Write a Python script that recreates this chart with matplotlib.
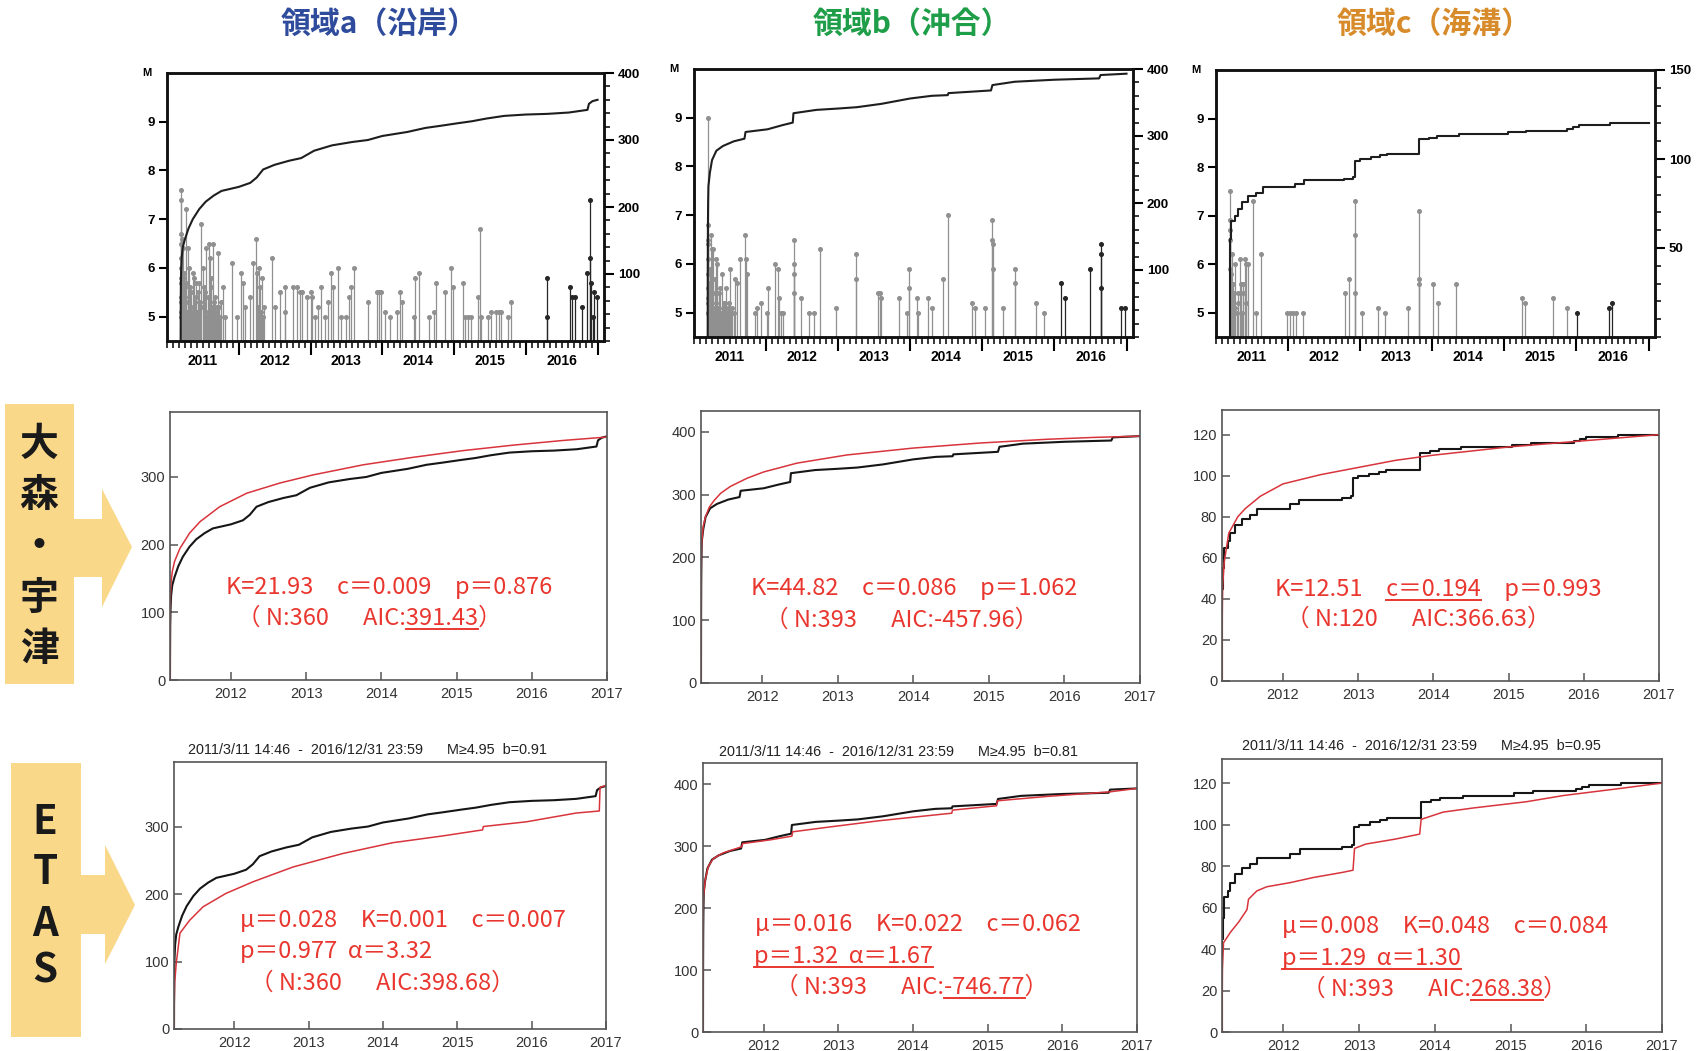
#!/usr/bin/env python

import numpy as np
import matplotlib
matplotlib.use("Agg")
import matplotlib.pyplot as plt
from matplotlib.patches import Polygon
from matplotlib.lines import Line2D
from matplotlib.font_manager import FontProperties

###
### data  (time in decimal years, M = magnitude, n = cumulative count)
###

titles       = ["領域a（沿岸）", "領域b（沖合）", "領域c（海溝）"]
title_colors = ["#2e4b9c", "#1f9e49", "#d88b2a"]
years        = [2011, 2012, 2013, 2014, 2015, 2016]

# region a, events (top row)
a_ev_t = [2011.19, 2011.20, 2011.19, 2011.21, 2011.22, 2011.19, 2011.19, 2011.20, 2011.20, 2011.21,
          2011.23, 2011.24, 2011.25, 2011.26, 2011.27, 2011.28, 2011.29, 2011.30, 2011.31, 2011.33,
          2011.34, 2011.36, 2011.37, 2011.38, 2011.39, 2011.40, 2011.42, 2011.43, 2011.45, 2011.47,
          2011.48, 2011.50, 2011.52, 2011.54, 2011.55, 2011.56, 2011.57, 2011.58, 2011.60, 2011.61,
          2011.62, 2011.63, 2011.64, 2011.66, 2011.68, 2011.70, 2011.71, 2011.72, 2011.74, 2011.75,
          2011.78, 2011.81, 2011.90, 2011.97, 2012.03, 2012.06, 2012.09, 2012.15, 2012.20, 2012.24,
          2012.26, 2012.27, 2012.28, 2012.30, 2012.31, 2012.33, 2012.34, 2012.35, 2012.46, 2012.50,
          2012.58, 2012.64, 2012.65, 2012.75, 2012.81, 2012.86, 2012.88, 2012.95, 2013.00, 2013.02,
          2013.06, 2013.11, 2013.14, 2013.20, 2013.25, 2013.29, 2013.31, 2013.38, 2013.43, 2013.50,
          2013.54, 2013.56, 2013.60, 2013.80, 2013.93, 2013.95, 2013.98, 2014.04, 2014.11, 2014.20,
          2014.25, 2014.27, 2014.44, 2014.46, 2014.51, 2014.65, 2014.72, 2014.75, 2014.88, 2014.96,
          2014.98, 2015.13, 2015.15, 2015.20, 2015.23, 2015.33, 2015.36, 2015.38, 2015.47, 2015.52,
          2015.59, 2015.62, 2015.65, 2015.75, 2015.80, 2016.30, 2016.30, 2016.62, 2016.65, 2016.69,
          2016.79, 2016.86, 2016.89, 2016.90, 2016.91, 2016.93, 2016.95, 2016.99,
          2011.19, 2011.19, 2011.19, 2011.20, 2011.20, 2011.21, 2011.21, 2011.22, 2011.22, 2011.23,
          2011.24, 2011.25, 2011.26, 2011.27, 2011.29, 2011.31, 2011.32, 2011.35, 2011.41, 2011.44,
          2011.46, 2011.51, 2011.53, 2011.59, 2011.65, 2011.67]
a_ev_m = [7.6, 7.4, 6.7, 6.6, 6.4, 6.2, 6.0, 5.8, 6.5, 5.6,
          5.5, 5.9, 5.3, 5.7, 7.2, 5.1, 6.4, 5.4, 6.0, 5.2,
          5.5, 5.9, 5.0, 5.8, 5.3, 5.7, 5.1, 5.5, 5.7, 5.2,
          6.9, 6.0, 5.6, 5.1, 6.4, 5.0, 5.4, 6.5, 6.2, 5.8,
          5.6, 5.2, 6.5, 5.3, 5.1, 5.2, 6.3, 5.2, 5.0, 5.3,
          5.6, 5.0, 6.1, 5.0, 5.9, 5.7, 5.2, 5.4, 6.1, 6.6,
          5.9, 5.2, 6.0, 5.6, 5.1, 5.8, 5.0, 5.2, 6.2, 5.2,
          5.5, 5.1, 5.6, 5.6, 5.6, 5.5, 5.5, 5.4, 5.5, 5.4,
          5.0, 5.2, 5.6, 5.0, 5.3, 5.9, 5.6, 6.0, 5.0, 5.0,
          5.4, 5.6, 6.0, 5.3, 5.5, 5.5, 5.5, 5.1, 5.0, 5.1,
          5.5, 5.3, 5.0, 5.8, 5.9, 5.0, 5.1, 5.7, 5.5, 6.0,
          5.6, 5.7, 5.0, 5.0, 5.0, 5.4, 6.8, 5.0, 5.0, 5.1,
          5.1, 5.1, 5.1, 5.0, 5.3, 5.8, 5.0, 5.6, 5.4, 5.4,
          5.2, 5.9, 7.4, 6.2, 5.7, 5.0, 5.5, 5.4,
          5.0, 5.4, 5.7, 5.1, 5.3, 5.0, 5.9, 5.2, 5.0, 5.8,
          5.0, 5.6, 5.1, 5.3, 5.0, 5.3, 5.6, 5.1, 5.4, 5.0,
          5.3, 5.2, 5.5, 5.0, 5.0, 5.4]

# region a, cumulative count and model curves
a_cum_t = [2011.190, 2011.191, 2011.193, 2011.197, 2011.205, 2011.22, 2011.25, 2011.30, 2011.36, 2011.45,
           2011.54, 2011.65, 2011.76, 2011.88, 2012.00, 2012.16, 2012.25, 2012.34, 2012.50, 2012.70,
           2012.87, 2013.05, 2013.30, 2013.58, 2013.80, 2014.00, 2014.35, 2014.60, 2014.80, 2015.05,
           2015.25, 2015.45, 2015.70, 2016.00, 2016.30, 2016.60, 2016.86, 2016.88, 2016.93, 2017.00]
a_cum_n = [0, 40, 80, 105, 125, 140, 152, 168, 182, 197,
           208, 217, 224, 227, 230, 236, 244, 256, 263, 269,
           273, 284, 292, 297, 300, 306, 312, 318, 321, 325,
           328, 332, 336, 338, 339, 341, 345, 354, 358, 360]
a_om_t = [2011.190, 2011.191, 2011.193, 2011.197, 2011.205, 2011.22, 2011.25, 2011.32, 2011.45, 2011.59,
          2011.85, 2012.21, 2012.65, 2013.09, 2013.76, 2014.42, 2015.09, 2015.75, 2016.42, 2017.00]
a_om_n = [0, 60, 100, 125, 145, 160, 175, 194, 217, 234,
          256, 276, 291, 303, 318, 329, 339, 347, 354, 359]
a_et_t = [2011.190, 2011.192, 2011.20, 2011.22, 2011.27, 2011.40, 2011.58, 2011.89, 2012.25, 2012.79,
          2013.46, 2014.13, 2014.80, 2015.34, 2015.35, 2015.93, 2016.60, 2016.91, 2016.92, 2017.00]
a_et_n = [0, 33, 70, 97, 142, 161, 181, 201, 218, 240,
          260, 276, 286, 295, 300, 307, 320, 323, 358, 361]

# region b
b_ev_t = [2011.19, 2011.19, 2011.19, 2011.19, 2011.20, 2011.20, 2011.21, 2011.21, 2011.22, 2011.23,
          2011.24, 2011.25, 2011.26, 2011.27, 2011.28, 2011.29, 2011.30, 2011.31, 2011.32, 2011.33,
          2011.34, 2011.36, 2011.37, 2011.39, 2011.40, 2011.41, 2011.43, 2011.45, 2011.46, 2011.47,
          2011.48, 2011.49, 2011.50, 2011.52, 2011.53, 2011.55, 2011.57, 2011.59, 2011.64, 2011.71,
          2011.72, 2011.73, 2011.84, 2011.87, 2011.93, 2012.01, 2012.03, 2012.12, 2012.16, 2012.18,
          2012.20, 2012.23, 2012.39, 2012.39, 2012.39, 2012.39, 2012.48, 2012.59, 2012.66, 2012.75,
          2012.97, 2013.25, 2013.25, 2013.55, 2013.58, 2013.60, 2013.84, 2013.95, 2013.98, 2013.98,
          2014.10, 2014.11, 2014.24, 2014.30, 2014.45, 2014.52, 2014.85, 2014.90, 2015.03, 2015.14,
          2015.14, 2015.15, 2015.15, 2015.29, 2015.45, 2015.45, 2015.75, 2015.85, 2016.09, 2016.14,
          2016.49, 2016.64, 2016.64, 2016.64, 2016.92, 2016.98,
          2011.19, 2011.19, 2011.19, 2011.20, 2011.20, 2011.21, 2011.22, 2011.23, 2011.25, 2011.27,
          2011.35]
b_ev_m = [6.8, 6.4, 6.1, 5.8, 9.0, 6.5, 5.6, 5.3, 5.9, 6.6,
          5.1, 6.3, 5.4, 6.3, 5.0, 5.7, 6.1, 5.2, 6.0, 5.1,
          5.4, 5.5, 5.0, 5.8, 5.1, 5.2, 5.2, 5.5, 5.0, 5.1,
          5.2, 5.0, 5.9, 5.0, 5.1, 5.0, 5.7, 5.6, 6.1, 6.6,
          6.1, 5.8, 5.0, 5.1, 5.2, 5.0, 5.5, 6.0, 5.9, 5.3,
          5.0, 5.0, 6.5, 6.0, 5.8, 5.4, 5.3, 5.0, 5.0, 6.3,
          5.1, 6.2, 5.7, 5.4, 5.4, 5.3, 5.3, 5.0, 5.9, 5.5,
          5.3, 5.0, 5.3, 5.1, 5.7, 7.0, 5.2, 5.1, 5.1, 6.9,
          6.5, 6.4, 5.9, 5.1, 5.9, 5.6, 5.2, 5.0, 5.6, 5.3,
          5.9, 6.4, 6.2, 5.5, 5.1, 5.1,
          5.0, 5.3, 5.5, 5.2, 5.0, 5.1, 5.0, 5.2, 5.0, 5.1,
          5.0]
b_cum_t = [2011.190, 2011.191, 2011.193, 2011.196, 2011.20, 2011.22, 2011.25, 2011.31, 2011.40, 2011.55,
           2011.70, 2011.715, 2012.02, 2012.22, 2012.37, 2012.38, 2012.70, 2013.00, 2013.26, 2013.60,
           2014.00, 2014.30, 2014.52, 2014.53, 2015.12, 2015.14, 2015.45, 2016.00, 2016.62, 2016.64,
           2017.00]
b_cum_n = [0, 100, 160, 200, 225, 245, 264, 278, 285, 292,
           296, 306, 310, 316, 320, 334, 339, 341, 343, 348,
           356, 360, 361, 364, 368, 376, 381, 384, 386, 391,
           393]
b_om_t = [2011.190, 2011.191, 2011.193, 2011.196, 2011.20, 2011.22, 2011.25, 2011.30, 2011.36, 2011.45,
          2011.58, 2011.80, 2012.02, 2012.46, 2013.12, 2014.00, 2014.88, 2015.77, 2016.40, 2017.00]
b_om_n = [0, 120, 175, 210, 225, 250, 265, 280, 290, 302,
          313, 326, 336, 350, 363, 374, 382, 388, 391, 393]
b_et_t = [2011.190, 2011.191, 2011.195, 2011.22, 2011.26, 2011.33, 2011.46, 2011.71, 2011.72, 2012.09,
          2012.38, 2012.39, 2012.90, 2013.56, 2014.52, 2014.53, 2015.12, 2015.13, 2015.79, 2016.64,
          2017.00]
b_et_n = [0, 150, 218, 245, 267, 280, 289, 299, 304, 310,
          316, 323, 331, 341, 353, 358, 365, 373, 380, 387.5,
          393]

# region c
c_ev_t = [2011.19, 2011.19, 2011.19, 2011.20, 2011.20, 2011.21, 2011.21, 2011.22, 2011.23, 2011.24,
          2011.25, 2011.26, 2011.27, 2011.29, 2011.30, 2011.31, 2011.33, 2011.35, 2011.36, 2011.37,
          2011.38, 2011.40, 2011.41, 2011.42, 2011.45, 2011.52, 2011.55, 2011.62, 2011.99, 2012.02,
          2012.07, 2012.11, 2012.20, 2012.79, 2012.84, 2012.93, 2012.93, 2012.93, 2013.03, 2013.25,
          2013.34, 2013.66, 2013.82, 2013.82, 2013.82, 2014.01, 2014.08, 2014.33, 2015.24, 2015.28,
          2015.67, 2015.87, 2016.01, 2016.45, 2016.50]
c_ev_m = [7.5, 6.9, 6.5, 6.7, 5.9, 5.8, 5.2, 6.2, 5.0, 5.6,
          5.4, 5.1, 6.0, 5.0, 5.4, 5.2, 6.1, 5.6, 5.0, 5.6,
          5.4, 6.1, 5.2, 6.0, 6.0, 7.3, 5.0, 6.2, 5.0, 5.0,
          5.0, 5.0, 5.0, 5.4, 5.7, 7.3, 6.6, 5.4, 5.0, 5.1,
          5.0, 5.1, 7.1, 5.7, 5.6, 5.6, 5.2, 5.6, 5.3, 5.2,
          5.3, 5.1, 5.0, 5.1, 5.2]
c_cum_t = [2011.190, 2011.192, 2011.195, 2011.20, 2011.21, 2011.27, 2011.30, 2011.36, 2011.45, 2011.56,
           2011.65, 2012.09, 2012.22, 2012.78, 2012.90, 2012.93, 2013.00, 2013.15, 2013.28, 2013.37,
           2013.82, 2013.95, 2014.07, 2014.37, 2015.05, 2015.30, 2015.87, 2015.95, 2016.03, 2016.46,
           2017.00]
c_cum_n = [0, 30, 45, 55, 65, 68, 72, 76, 79, 81,
           84, 86, 88, 89, 90, 99, 100, 101, 102, 103,
           111, 112, 113, 114, 115, 116, 117, 118, 119, 120,
           120]
c_om_t = [2011.190, 2011.192, 2011.195, 2011.20, 2011.22, 2011.28, 2011.40, 2011.50, 2011.70, 2012.00,
          2012.50, 2013.00, 2013.50, 2014.00, 2014.50, 2015.00, 2015.50, 2016.00, 2016.50, 2017.00]
c_om_n = [0, 25, 38, 47, 58, 72, 80, 84, 90, 96,
          100.5, 104, 107.5, 110, 112, 114, 115.5, 117, 118.5, 120]
c_et_t = [2011.190, 2011.195, 2011.21, 2011.30, 2011.41, 2011.52, 2011.54, 2011.65, 2011.78, 2012.09,
          2012.40, 2012.79, 2012.92, 2012.94, 2013.09, 2013.48, 2013.80, 2013.82, 2014.11, 2014.51,
          2015.21, 2015.70, 2016.36, 2017.00]
c_et_n = [0, 30, 43, 48, 53, 59, 64, 68, 70, 72,
          74.5, 77, 78, 88.5, 90.6, 93, 95.4, 102.5, 106, 108,
          111, 114, 117, 120]

etas_titles = ["2011/3/11 14:46  -  2016/12/31 23:59      M\u22654.95  b=0.91",
               "2011/3/11 14:46  -  2016/12/31 23:59      M\u22654.95  b=0.81",
               "2011/3/11 14:46  -  2016/12/31 23:59      M\u22654.95  b=0.95"]

# red parameter notes: (x, baseline y, [(text, underlined), ...])
notes = [
    (226, 594, [("K=21.93　c＝0.009　p＝0.876", False)]),
    (237, 625, [("（ N:360　  AIC:", False), ("391.43", True), ("）", False)]),
    (751, 595, [("K=44.82　c＝0.086　p＝1.062", False)]),
    (765, 627, [("（ N:393　  AIC:-457.96）", False)]),
    (1275, 596, [("K=12.51　", False), ("c＝0.194", True), ("　p＝0.993", False)]),
    (1286, 626, [("（ N:120　  AIC:366.63）", False)]),
    (240, 927, [("μ＝0.028　K=0.001　c＝0.007", False)]),
    (240, 958, [("p＝0.977  α＝3.32", False)]),
    (250, 990, [("（ N:360　  AIC:398.68）", False)]),
    (755, 931, [("μ＝0.016　K=0.022　c＝0.062", False)]),
    (754, 963, [("p＝1.32  α＝1.67", True)]),
    (775, 994, [("（ N:393　  AIC:", False), ("-746.77", True), ("）", False)]),
    (1282, 933, [("μ＝0.008　K=0.048　c＝0.084", False)]),
    (1282, 965, [("p＝1.29  α＝1.30", True)]),
    (1302, 996, [("（ N:393　  AIC:", False), ("268.38", True), ("）", False)]),
]

###
### layout (figure pixels)
###

W, H = 1697, 1051
CJK = ["Noto Sans CJK JP", "DejaVu Sans"]
LAT = ["Liberation Sans", "DejaVu Sans"]
RED = "#e9372f"
YELLOW = "#f9d88a"

top_boxes = [(167, 73, 604, 341), (694, 69, 1133, 337), (1216, 70, 1655, 337)]
mid_boxes = [(170, 412, 607, 680), (701, 411, 1140, 683), (1222, 410, 1659, 681)]
bot_boxes = [(174, 762, 606, 1029), (703, 763, 1137, 1032), (1222, 759, 1662, 1032)]


def px_rect(l, t, r, b):
    return [l / W, 1 - b / H, (r - l) / W, (b - t) / H]


def fx(x):
    return x / W


def fy(y):
    return 1 - y / H

###
### panels
###

def plot_events(fig, box, ev_t, ev_m, cum_t, cum_n, cum, steps):
    """top row: magnitude stems + cumulative count on the right axis"""
    ax = fig.add_axes(px_rect(*box))
    xlim = (2011.10, 2017.09)
    ylim = (4.5, 10.0)
    ax.set_xlim(xlim)
    ax.set_ylim(ylim)

    t = np.asarray(ev_t)
    m = np.asarray(ev_m)
    recent = t >= 2016
    for sel, col in ((~recent, "#909090"), (recent, "#262626")):
        ax.vlines(t[sel], ylim[0], m[sel], color=col, lw=0.9)
        ax.plot(t[sel], m[sel], "o", ms=2.6, color=col, mec=col)

    ax.set_yticks([5, 6, 7, 8, 9])
    ax.set_xticks(range(2012, 2018))
    ax.set_xticklabels([])
    ax.set_xticks(np.arange(2011, 2017.01, 1 / 12.0), minor=True)
    ax.tick_params(axis="x", which="major", direction="out", length=10, width=1.5)
    ax.tick_params(axis="x", which="minor", direction="out", length=5, width=1.1)
    ax.tick_params(axis="y", direction="out", length=6, width=1.5, labelsize=9.5, pad=3)
    for lab in ax.get_yticklabels():
        lab.set_fontweight("bold")
    for yr in years:
        ax.text(yr + 0.5, -0.075, str(yr), transform=ax.get_xaxis_transform(),
                ha="center", va="center", fontsize=10, fontweight="bold")
    ax.text(-0.046, 1.0, "M", transform=ax.transAxes, ha="center", va="center",
            fontsize=8, fontweight="bold")

    ax2 = ax.twinx()
    ax2.plot(cum_t, cum_n, color="#1e1e1e", lw=1.5,
             drawstyle="steps-post" if steps else "default")
    ax2.set_ylim(0, cum[0])
    ax2.set_yticks(cum[1])
    ax2.set_yticks(cum[2], minor=True)
    ax2.tick_params(axis="y", which="major", direction="out", length=7, width=1.5,
                    labelsize=9.5, pad=3)
    ax2.tick_params(axis="y", which="minor", direction="out", length=4, width=1.1)
    for lab in ax2.get_yticklabels():
        lab.set_fontweight("bold")
    for a in (ax, ax2):
        for sp in a.spines.values():
            sp.set_linewidth(1.8)
            sp.set_color("#111111")


def plot_fit(fig, box, cum_t, cum_n, fit_t, fit_n, ymax, yticks, steps):
    """middle / bottom rows: observed cumulative count vs model"""
    ax = fig.add_axes(px_rect(*box))
    ax.plot(cum_t, cum_n, color="#161616", lw=1.5,
            drawstyle="steps-post" if steps else "default")
    ax.plot(fit_t, fit_n, color="#d8343c", lw=1.1)
    ax.set_xlim(2011.19, 2017.0)
    ax.set_ylim(0, ymax)
    ax.set_xticks(range(2012, 2018))
    ax.set_yticks(yticks)
    ax.tick_params(direction="in", length=6, width=1.1, color="#555555",
                   labelcolor="#333333", labelsize=10.5)
    ax.tick_params(axis="x", pad=5)
    ax.tick_params(axis="y", pad=3.5)
    for sp in ax.spines.values():
        sp.set_linewidth(1.2)
        sp.set_color("#555555")
    return ax


def red_line(fig, renderer, x, y, parts, prop):
    """red note text, with optional underlined pieces"""
    text = "".join(p for p, u in parts)
    try:
        font = renderer._prepare_font(prop)
        font.set_text(text, 0.0)
        lsb = font.get_bitmap_offset()[0] / 64.0
    except Exception:
        lsb = 0.0
    fig.text(fx(x - lsb), fy(y), text, fontproperties=prop, color=RED,
             ha="left", va="baseline")
    prefix = ""
    for piece, under in parts:
        if under:
            w_all = renderer.get_text_width_height_descent(prefix + piece, prop, ismath=False)[0]
            w_sub = renderer.get_text_width_height_descent(piece, prop, ismath=False)[0]
            x1 = x + w_all
            x0 = x1 - w_sub
            fig.add_artist(Line2D([fx(x0), fx(x1)], [fy(y + 4), fy(y + 4)],
                                  color=RED, lw=1.4, transform=fig.transFigure))
        prefix += piece


def side_label(fig, box, body, head, tip, chars, char_y, cx, size):
    """yellow box with arrow and vertical label"""
    l, t, r, b = box
    pts = [(l, t), (r, t), (r, body[0]), (head[0], body[0]), (head[0], head[1]),
           tip, (head[0], head[2]), (head[0], body[1]), (r, body[1]), (r, b), (l, b)]
    fig.add_artist(Polygon([(fx(px), fy(py)) for px, py in pts], closed=True,
                           fc=YELLOW, ec="none", transform=fig.transFigure))
    for ch, cy in zip(chars, char_y):
        fig.text(fx(cx), fy(cy), ch, family=CJK, fontsize=size, fontweight="bold",
                 color="#1a1a1a", ha="center", va="center")

###
### main
###

def main():
    plt.rcParams["font.family"] = LAT
    fig = plt.figure(figsize=(W / 100.0, H / 100.0), dpi=100)
    fig.patch.set_facecolor("white")

    regions = [
        dict(ev=(a_ev_t, a_ev_m), cum=(a_cum_t, a_cum_n), om=(a_om_t, a_om_n), et=(a_et_t, a_et_n),
             right=(400, [100, 200, 300, 400], np.arange(0, 401, 20)),
             ymax_mid=396, ymax_bot=395.6, yt=[0, 100, 200, 300], steps=False),
        dict(ev=(b_ev_t, b_ev_m), cum=(b_cum_t, b_cum_n), om=(b_om_t, b_om_n), et=(b_et_t, b_et_n),
             right=(400, [100, 200, 300, 400], np.arange(0, 401, 20)),
             ymax_mid=433, ymax_bot=434, yt=[0, 100, 200, 300, 400], steps=False),
        dict(ev=(c_ev_t, c_ev_m), cum=(c_cum_t, c_cum_n), om=(c_om_t, c_om_n), et=(c_et_t, c_et_n),
             right=(150, [50, 100, 150], np.arange(0, 151, 10)),
             ymax_mid=132, ymax_bot=131.6, yt=[0, 20, 40, 60, 80, 100, 120], steps=True),
    ]

    title_x = [379, 912, 1434]
    etas_title_pos = [(368, 750), (898, 752), (1421, 746)]
    for i, reg in enumerate(regions):
        fig.text(fx(title_x[i]), fy(24), titles[i], family=CJK, fontsize=21.5,
                 fontweight="bold", color=title_colors[i], ha="center", va="center")
        plot_events(fig, top_boxes[i], reg["ev"][0], reg["ev"][1], reg["cum"][0], reg["cum"][1],
                    reg["right"], reg["steps"])
        plot_fit(fig, mid_boxes[i], reg["cum"][0], reg["cum"][1], reg["om"][0], reg["om"][1],
                 reg["ymax_mid"], reg["yt"], reg["steps"])
        plot_fit(fig, bot_boxes[i], reg["cum"][0], reg["cum"][1], reg["et"][0], reg["et"][1],
                 reg["ymax_bot"], reg["yt"], reg["steps"])
        tx, ty = etas_title_pos[i]
        fig.text(fx(tx), fy(ty), etas_titles[i], fontsize=10.4, color="#222222",
                 ha="center", va="center")

    # side labels
    side_label(fig, (5, 404, 74, 684), (519, 577), (102, 489, 607), (132, 547),
               ["大", "森", "・", "宇", "津"], [444, 495, 547, 598, 650], 39, 28)
    side_label(fig, (11, 763, 81, 1037), (875, 934), (105, 845, 964), (135, 905),
               ["E", "T", "A", "S"], [822, 872, 924, 971], 45, 29)

    # red notes
    renderer = fig.canvas.get_renderer()
    prop = FontProperties(family=CJK, size=17)
    for x, y, parts in notes:
        red_line(fig, renderer, x, y, parts, prop)

    fig.savefig("out.png", dpi=100)
    plt.close(fig)


if (__name__ == "__main__"):
    main()
